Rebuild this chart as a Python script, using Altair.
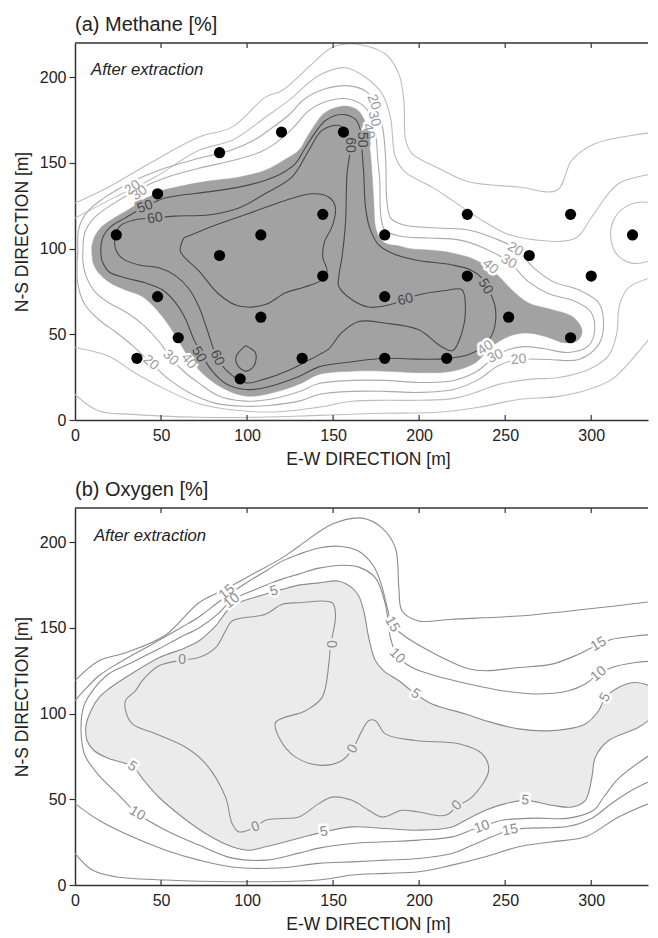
import altair as alt
import pandas as pd

FONT = "Liberation Sans"
X_DOMAIN = [0, 333]
Y_DOMAIN = [0, 220]
X_TICKS = [0, 50, 100, 150, 200, 250, 300]
Y_TICKS = [0, 50, 100, 150, 200]
W, H = 573, 377

# ---------------- panel (a): methane ----------------
WELL_X = [24, 36, 48, 48, 60, 84, 84, 96, 108, 108, 120, 132, 144, 144, 156,
          180, 180, 180, 216, 228, 228, 252, 264, 288, 288, 300, 324]
WELL_Y = [108, 36, 132, 72, 48, 156, 96, 24, 108, 60, 168, 36, 120, 84, 168,
          108, 72, 36, 36, 120, 84, 60, 96, 120, 48, 84, 108]

A_FILL_40 = [(9.7,101.2),(11.6,107.4),(15.5,112.8),(22.6,117.8),(29,121.5),(37.2,126.6),(48.4,133.1),(60.4,136.2),(77.4,139.4),(95.2,141.7),(110.7,145.8),(121.4,151.6),(130.1,157.4),(134.7,164.9),(139.8,172.9),(144,178.3),(149.4,181.6),(154.5,183),(159.1,183),(163.8,181.2),(166.8,177.7),(169.6,170.8),(170.7,163.2),(171.9,153.3),(172.6,143.8),(173.6,128.3),(174.6,112.8),(176.5,107.4),(180.4,103.1),(188.2,101.6),(195.9,99.8),(205.6,99.2),(218.9,97.5),(232.7,93.4),(244.3,85.7),(253.8,76),(263.6,68.3),(277.2,64.4),(288.8,60.5),(294.6,52.7),(292.7,46.9),(285,45),(273.3,48.8),(261.7,50.8),(252,48.8),(242.3,43),(232.7,33.4),(219.1,28.5),(199.8,27.6),(180.4,28.5),(161,28.5),(141.7,26.6),(130.1,20.8),(110.7,14.9),(99.1,14),(87.5,17.8),(75.9,25.6),(66.2,36.5),(59.8,46.9),(50.7,60.5),(39.1,72.1),(29,76),(19.7,80.6),(13.9,85.7),(10.6,91.5),(9.7,101.2)]

A_LINE_50 = [(15.5,93.4),(15.0,100.4),(16.5,107.4),(20.5,112.6),(29.0,117.8),(40.7,124.4),(52.3,129.5),(77.4,133.1),(95.2,135.9),(110.7,139.9),(121.4,144.6),(128.2,149.7),(133.0,157.4),(137.8,165.1),(145.6,174.8),(155.2,178.3),(163.0,175.4),(165.9,169.0),(166.8,157.4),(167.8,143.8),(168.8,124.4),(171.3,112.0),(176.5,102.2),(185.3,96.9),(197.9,93.4),(219.1,90.5),(230.0,87.6),(236.4,83.0),(240.4,76.0),(243.9,67.3),(244.5,58.5),(242.7,50.4),(238.5,44.0),(228.8,38.2),(216.0,35.8),(199.8,35.5),(180.4,36.0),(161.0,34.0),(141.7,31.0),(130.1,25.4),(110.7,19.0),(99.1,17.8),(87.5,21.3),(79.0,29.5),(73.8,38.2),(69.1,46.9),(63.9,59.7),(58.5,68.4),(50.7,76.0),(40.7,80.1),(29.0,83.0),(19.7,86.5),(15.5,93.4)]

A_LINE_60 = [(46.5,117.7),(58.1,119.0),(77.4,119.6),(95.2,123.7),(110.7,132.2),(126.2,141.9),(135.9,157.4),(143.6,169.0),(153.3,171.9),(158.0,167.8),(160.1,161.3),(158.1,143.8),(157.2,114.8),(155.2,95.3),(153.3,83.7),(153.3,77.9),(161.0,70.2),(170.7,65.9),(180.4,66.7),(192.0,70.2),(199.8,73.1),(214.3,75.4),(224.9,76.0),(226.9,64.4),(224.5,50.0),(219.5,40.5),(212.0,43.5),(199.8,52.7),(180.4,56.5),(165.0,57.5),(155.0,51.0),(147.5,41.5),(141.7,38.0),(134.0,34.0),(124.3,29.0),(110.7,24.0),(99.1,21.7),(89.4,27.6),(82.6,36.3),(76.8,52.7),(72.0,66.1),(66.2,76.6),(58.5,84.1),(48.8,88.8),(37.2,90.5),(27.9,94.0),(23.8,99.2),(23.2,106.2),(26.1,113.2),(34.3,116.7),(46.5,117.7)]

A_LINE_70 = [(63.3,106.3),(72.0,109.9),(86.5,115.5),(101.0,120.5),(122.3,128.1),(137.8,132.0),(147.4,130.1),(151.3,124.3),(149.4,112.8),(145.0,104.0),(144.0,95.0),(146.5,87.0),(143.0,81.5),(133.0,77.5),(122.3,74.2),(110.7,67.4),(95.2,66.5),(83.6,73.4),(72.0,87.0),(61.2,98.6),(63.3,106.3)]

A_ISLAND = [(99.1,43.4),(104.9,39.2),(103.9,31.4),(99.1,28.5),(94.2,32.4),(93.7,37.2),(99.1,43.4)]

A_LINE_30 = [(4.6,99.2),(5.8,109.7),(11.0,117.8),(20.9,125.4),(35.8,134.1),(51.7,141.1),(72.0,146.9),(92.3,151.6),(108.0,156.5),(118.5,163.0),(127.2,171.0),(135.9,180.5),(146.3,186.0),(157.9,187.5),(166.1,184.5),(171.9,177.7),(174.8,166.1),(176.0,151.6),(177.1,140.0),(177.7,119.6),(180.0,110.9),(188.2,107.4),(205.6,106.2),(223.0,105.1),(237.5,100.4),(252.0,92.4),(263.6,80.6),(275.3,73.7),(289.8,69.6),(299.7,63.2),(302.0,52.7),(298.5,43.4),(286.9,39.4),(272.4,41.7),(260.7,42.8),(252.0,41.1),(244.3,37.2),(233.4,28.3),(220.1,23.1),(199.8,21.9),(180.4,23.1),(161.0,23.1),(141.7,21.3),(130.1,16.5),(112.7,12.0),(99.1,11.0),(83.6,14.0),(72.0,21.5),(63.3,28.3),(55.6,36.3),(48.8,45.8),(40.1,55.1),(30.2,62.6),(19.7,68.4),(11.6,74.8),(6.4,84.1),(4.6,92.2),(4.6,99.2)]

A_LINE_20 = [(1.7,99.2),(2.3,112.0),(7.0,121.3),(16.8,129.5),(31.4,138.2),(48.8,145.8),(72.0,152.7),(90.6,157.4),(103.9,163.2),(113.8,170.0),(124.3,178.0),(133.0,187.0),(144.6,193.0),(159.1,195.0),(169.6,191.5),(175.4,183.5),(178.9,170.0),(180.6,151.6),(181.2,128.3),(183.5,117.8),(191.1,113.8),(211.4,112.0),(228.8,110.9),(243.3,106.2),(255.9,100.2),(266.6,88.8),(278.2,80.6),(292.7,76.0),(304.3,68.4),(307.2,55.6),(304.3,44.0),(292.7,35.3),(275.3,35.3),(257.8,35.3),(246.2,31.8),(234.6,23.7),(220.1,17.8),(199.8,16.1),(180.4,16.7),(161.0,16.7),(141.7,14.9),(130.1,11.0),(112.7,8.5),(99.1,8.0),(80.7,10.0),(66.2,16.0),(54.6,23.7),(44.0,33.4),(34.3,42.7),(24.4,50.8),(13.9,58.5),(5.8,67.3),(1.7,78.9),(1.2,90.5),(1.7,99.2)]

A_OUT1_TOP = [(0,117.8),(23.6,130.2),(46.9,141.9),(72.0,157.4),(91.3,163.2),(110.7,176.7),(124.3,186.5),(141.7,201.0),(157.2,205.6),(168.8,200.0),(178.5,190.3),(183.3,176.7),(186.2,153.5),(192.0,144.6),(207.5,135.9),(219.1,128.3),(234.6,117.8),(250.1,109.0),(267.5,105.1),(290.8,106.0),(300.4,118.6),(315.9,138.0),(338.0,143.8)]

A_OUT2_TOP = [(0,126.6),(19.7,136.0),(43.0,149.5),(72.0,165.1),(91.3,170.9),(110.7,188.4),(120.4,192.3),(137.8,207.8),(149.4,217.4),(163.0,219.4),(180.4,213.6),(188.2,202.0),(191.1,186.5),(192.2,163.2),(195.9,155.5),(211.4,146.9),(228.8,139.0),(257.8,136.0),(280.1,134.1),(288.8,151.6),(302.4,161.3),(338.0,168.0)]

A_OUT1_BOT = [(0,42.3),(19.7,37.2),(33.3,28.5),(48.8,19.8),(72.0,9.5),(95.2,5.5),(118.5,4.8),(141.7,7.5),(160.9,10.9),(180.4,11.5),(199.8,11.5),(220.1,12.6),(234.6,16.7),(246.2,20.8),(263.6,23.7),(281.1,24.8),(298.5,29.5),(310.1,37.6),(314.7,49.8),(316.5,67.3),(321.7,77.2),(338.0,84.1)]

A_OUT2_BOT = [(0,14.9),(13.9,5.2),(33.3,3.3),(72.0,1.6),(106.9,1.6),(141.7,2.7),(176.5,3.9),(211.4,4.5),(234.6,7.4),(257.8,12.0),(281.1,13.8),(298.5,17.8),(312.0,23.7),(323.6,35.3),(338.0,52.7)]

A_CIRCLE = [(338.0,125.4),(330.5,127.2),(320.6,124.8),(313.6,117.8),(311.3,107.4),(314.7,96.9),(322.9,91.7),(332.2,92.3),(338.0,95.8)]

A_LAB_T = ["20", "30", "50", "60", "20", "30", "40", "50", "60", "20", "30", "40", "50",
           "60", "40", "30", "20", "20", "30", "40", "50", "60"]
A_LAB_X = [33.5, 37.5, 40.7, 46.5, 173.6, 173.8, 170.5, 166.8, 160.1, 255.9, 252.0, 241.4, 238.5,
           192.0, 238.5, 244.3, 257.8, 44.0, 55.6, 66.2, 72.0, 82.6]
A_LAB_Y = [135.5, 132.5, 124.4, 117.7, 185.5, 175.8, 168.5, 163.5, 160.5, 99.6, 92.4, 89.5, 77.9,
           70.2, 42.1, 37.2, 35.3, 33.4, 36.3, 34.3, 38.2, 36.3]
A_LAB_ANG = [325, 325, 340, 350, 70, 75, 80, 90, 90, 30, 30, 40, 60,
             345, 325, 335, 355, 40, 45, 50, 60, 65]
A_LAB_DARK = [0, 0, 1, 1, 0, 0, 0, 1, 1, 0, 0, 0, 1, 1, 0, 0, 0, 0, 0, 0, 1, 1]

# ---------------- panel (b): oxygen ----------------
B_FILL_5 = [(338.0,111.5),(335.3,115.3),(325.6,118.2),(315.9,115.3),(308.2,109.5),(304.3,101.7),(296.6,94.0),(277.2,90.1),(257.8,91.1),(238.5,95.9),(226.9,99.8),(207.5,105.6),(197.9,111.5),(188.2,119.2),(179.4,125.0),(174.6,130.8),(170.7,144.4),(167.8,159.9),(164.9,168.6),(161.0,173.4),(153.3,177.3),(141.7,176.3),(130.1,175.0),(120.4,172.5),(106.9,168.6),(91.3,162.8),(81.7,151.2),(72.0,142.4),(64.3,138.5),(48.8,132.6),(29.4,121.1),(19.7,114.5),(13.9,109.3),(9.3,101.7),(6.4,93.0),(7.0,84.3),(11.0,78.5),(19.7,73.8),(33.3,69.2),(40.1,61.0),(48.8,51.2),(62.3,39.7),(75.9,30.1),(91.3,22.3),(101.0,20.3),(110.7,22.3),(130.1,27.3),(144.6,31.0),(161.0,33.9),(180.4,33.0),(199.8,32.0),(219.1,33.9),(226.9,37.8),(238.5,43.6),(250.1,47.5),(261.7,49.4),(277.2,46.5),(288.8,45.5),(296.6,49.4),(300.4,63.0),(302.4,74.6),(310.1,84.3),(327.5,92.0),(338.0,99.8)]

B_LINE_0 = [(222.0,46.5),(215.3,40.7),(199.8,42.6),(190.1,43.6),(178.5,39.7),(170.7,43.6),(161.0,49.4),(149.4,51.3),(141.7,47.5),(130.1,39.7),(120.4,38.8),(110.7,37.8),(104.9,33.9),(95.2,31.0),(91.3,35.9),(87.5,51.3),(75.9,70.8),(64.3,80.4),(46.9,88.2),(33.3,94.0),(29.4,101.7),(29.4,107.6),(35.2,113.4),(39.1,119.2),(48.8,127.9),(62.3,131.2),(72.0,132.7),(81.7,138.5),(87.5,148.3),(91.3,154.1),(110.7,158.0),(120.4,163.8),(130.1,164.7),(149.4,164.7),(151.4,158.0),(149.4,144.4),(148.5,140.5),(147.5,128.9),(143.6,109.5),(134.0,101.7),(116.6,94.9),(118.5,86.2),(128.2,74.6),(143.6,69.8),(155.2,72.7),(161.4,79.5),(166.8,90.1),(170.7,95.9),(174.6,95.9),(180.4,88.2),(197.9,84.3),(223.0,82.4),(236.5,76.6),(240.4,66.9),(230.7,51.3),(222.0,46.5)]

B_LINE_10 = [(338.0,130.8),(325.6,129.8),(312.0,126.9),(304.3,123.1),(296.6,117.3),(286.9,113.4),(267.5,111.5),(248.1,113.4),(228.8,117.3),(209.5,122.1),(195.9,126.9),(187.2,133.7),(183.3,144.4),(180.4,163.8),(174.6,179.2),(164.9,185.5),(156.2,186.6),(141.7,184.9),(130.1,181.4),(120.4,178.5),(106.9,173.3),(95.2,168.6),(91.3,166.7),(83.6,158.7),(72.0,150.0),(60.4,144.2),(48.8,137.8),(31.4,129.1),(19.7,123.3),(11.0,114.5),(5.2,104.7),(3.5,90.1),(5.8,75.6),(13.9,64.0),(25.6,52.3),(36.2,41.7),(52.7,32.0),(72.0,23.3),(91.3,15.7),(110.7,14.5),(130.1,18.6),(141.7,21.5),(161.0,24.2),(180.4,25.2),(199.8,26.2),(219.1,28.1),(232.7,33.0),(236.5,33.9),(248.1,37.8),(267.5,39.0),(286.9,39.0),(301.4,43.6),(307.2,51.2),(315.9,62.2),(338.0,78.5)]

B_LINE_15_TOP = [(338.0,146.3),(325.6,145.3),(312.0,143.4),(304.3,140.5),(292.7,134.7),(277.2,128.9),(257.8,126.9),(238.5,125.0),(228.8,126.2),(209.5,134.7),(190.1,146.3),(184.3,152.1),(181.2,162.8),(178.3,174.4),(173.6,186.0),(164.9,194.8),(153.3,197.7),(141.7,196.7),(130.1,193.0),(120.4,189.0),(110.7,183.1),(101.0,177.3),(89.4,169.6),(81.7,163.8),(72.0,156.4),(62.3,150.6),(43.0,139.5),(25.6,129.7),(13.9,122.1),(5.2,113.4),(0,107.6)]

B_LINE_15_BOT = [(0,47.5),(13.9,37.8),(33.3,28.1),(52.7,20.3),(72.0,14.5),(91.3,10.5),(118.5,9.9),(141.7,12.6),(161.0,13.5),(180.4,14.5),(199.8,15.5),(219.1,18.4),(228.8,22.3),(246.2,29.7),(253.0,32.0),(261.7,33.1),(286.9,34.3),(300.4,39.0),(312.0,47.7),(325.6,56.4),(338.0,62.2)]

B_LINE_20_TOP = [(0,119.2),(13.9,130.8),(29.4,135.5),(52.7,145.9),(72.0,164.7),(87.5,172.7),(101.0,180.2),(120.4,190.9),(130.1,197.7),(149.4,210.5),(166.8,214.1),(178.5,208.3),(186.2,196.7),(188.2,173.4),(190.1,159.9),(199.8,154.1),(219.1,155.1),(257.8,157.0),(296.6,160.9),(338.0,165.7)]

B_LINE_20_BOT = [(0,18.4),(10.0,8.7),(23.6,4.8),(52.7,2.9),(91.3,1.9),(141.7,2.9),(161.0,5.8),(180.4,6.8),(199.8,7.7),(219.1,11.6),(238.5,16.5),(257.8,22.3),(277.2,25.2),(296.6,28.1),(315.9,39.7),(338.0,49.4)]

B_LAB_T = ["15", "10", "5", "0", "0", "0", "0", "0", "5", "10", "5", "15", "10", "5",
           "15", "10", "5", "5", "10", "15"]
B_LAB_X = [88.3, 91.2, 115.6, 62.3, 148.5, 161.4, 104.9, 222.0, 33.3, 36.2, 144.6, 184.3, 187.2, 197.9,
           304.3, 304.3, 308.2, 261.7, 236.5, 253.0]
B_LAB_Y = [170.9, 165.7, 171.5, 131.2, 140.5, 79.5, 33.9, 46.5, 69.2, 41.7, 31.0, 152.1, 133.7, 111.5,
           140.5, 123.1, 109.5, 49.4, 33.9, 32.0]
B_LAB_ANG = [320, 320, 345, 0, 90, 300, 340, 315, 35, 30, 350, 60, 45, 35,
             330, 320, 300, 5, 340, 350]
B_LAB_INSIDE = [0, 0, 0, 1, 1, 1, 1, 1, 0, 0, 0, 0, 0, 0, 0, 0, 0, 0, 0, 0]

TITLES = ["(a) Methane [%]", "(b) Oxygen [%]"]
NOTE = "After extraction"

# ---------------- styling ----------------
FILL_A = "#a2a2a2"
DARK_A = "#484848"
LIGHT_A = "#ababab"
LIGHT_A2 = "#bdbdbd"
FILL_B = "#ebebeb"
LINE_B = "#8c8c8c"
INK = "#222222"
FRAME = "#333333"

xs = alt.Scale(domain=X_DOMAIN, nice=False, zero=False)
ys = alt.Scale(domain=Y_DOMAIN, nice=False, zero=False)

xax = alt.Axis(values=X_TICKS, title="E-W DIRECTION [m]", grid=False, ticks=False, tickSize=0,
               labelPadding=7, labelFontSize=16, titleFontSize=17.5, titleFontWeight="normal",
               titlePadding=7, titleX=293, labelFlush=False, domainColor=FRAME, domainWidth=1.5,
               labelColor=INK, titleColor=INK, format="d")
yax = alt.Axis(values=Y_TICKS, title="N-S DIRECTION [m]", grid=False, tickSize=6, tickColor=FRAME,
               tickWidth=1.2, labelPadding=3, labelFontSize=16, titleFontSize=17.5,
               titleFontWeight="normal", titlePadding=7.5, labelFlush=False, domainColor=FRAME,
               domainWidth=1.5, labelColor=INK, titleColor=INK, format="d")

X = alt.X("x:Q", scale=xs, axis=xax)
Y = alt.Y("y:Q", scale=ys, axis=yax)


def lines_df(items):
    rows = []
    for name, pts, color in items:
        for i, (x, y) in enumerate(pts):
            rows.append({"line": name, "i": i, "x": x, "y": y, "c": color})
    return pd.DataFrame(rows)


def labels_df(t, x, y, a, col, halo):
    return pd.DataFrame({"t": t, "x": x, "y": y, "a": a, "c": col, "h": halo})


def frame_layers():
    tx = pd.DataFrame({"x": X_TICKS[1:]})
    bottom = alt.Chart(tx).mark_rule(color=FRAME, strokeWidth=1.2).encode(
        x=X, y=alt.value(H), y2=alt.value(H - 5))
    top = alt.Chart(tx).mark_rule(color=FRAME, strokeWidth=1.2).encode(
        x=X, y=alt.value(0), y2=alt.value(5))
    border = alt.Chart(pd.DataFrame({"k": [0]})).mark_rule(color=FRAME, strokeWidth=1.5).encode(
        x=alt.value(0), x2=alt.value(W), y=alt.value(0))
    return [bottom, top, border]


def panel(title, fill_pts, fill_color, line_items, labs, note_x, note_y, wells=None):
    fdf = pd.DataFrame({"i": range(len(fill_pts)),
                        "x": [p[0] for p in fill_pts], "y": [p[1] for p in fill_pts]})
    fill = alt.Chart(fdf).mark_line(fill=fill_color, stroke=fill_color, strokeWidth=0.5,
                                    interpolate="catmull-rom", clip=True).encode(
        x=X, y=Y, order="i:Q")
    lines = alt.Chart(lines_df(line_items)).mark_line(
        strokeWidth=1.1, interpolate="catmull-rom", clip=True).encode(
        x=X, y=Y, detail="line:N", order="i:Q", color=alt.Color("c:N", scale=None))
    halo = alt.Chart(labs).mark_text(font=FONT, fontSize=14, strokeWidth=5,
                                      strokeJoin="round").encode(
        x=X, y=Y, text="t:N", angle=alt.Angle("a:Q", scale=None),
        stroke=alt.Stroke("h:N", scale=None), fill=alt.Fill("h:N", scale=None))
    text = alt.Chart(labs).mark_text(font=FONT, fontSize=14).encode(
        x=X, y=Y, text="t:N", angle=alt.Angle("a:Q", scale=None),
        color=alt.Color("c:N", scale=None))
    note = alt.Chart(pd.DataFrame({"x": [note_x], "y": [note_y], "t": [NOTE]})).mark_text(
        font=FONT, fontSize=16.7, fontStyle="italic", align="left", baseline="alphabetic",
        color=INK).encode(x=X, y=Y, text="t:N")
    head = alt.Chart(pd.DataFrame({"t": [title]})).mark_text(
        font=FONT, fontSize=20, align="left", baseline="alphabetic", color=INK).encode(
        x=alt.value(0), y=alt.value(-12), text="t:N")
    layers = [fill, lines, halo, text]
    if wells is not None:
        layers.append(alt.Chart(wells).mark_circle(size=125, color="black", opacity=1).encode(x=X, y=Y))
    layers += [note, head]
    layers += frame_layers()
    return alt.layer(*layers).properties(width=W, height=H)


a_lines = [
    ("o2t", A_OUT2_TOP, LIGHT_A2), ("o1t", A_OUT1_TOP, LIGHT_A2),
    ("o1b", A_OUT1_BOT, LIGHT_A2), ("o2b", A_OUT2_BOT, LIGHT_A2),
    ("circ", A_CIRCLE, LIGHT_A2),
    ("l20", A_LINE_20, LIGHT_A), ("l30", A_LINE_30, LIGHT_A),
    ("l50", A_LINE_50, DARK_A), ("l60", A_LINE_60, DARK_A),
    ("l70", A_LINE_70, DARK_A), ("isl", A_ISLAND, DARK_A),
]
a_labs = labels_df(A_LAB_T, A_LAB_X, A_LAB_Y, A_LAB_ANG,
                   [DARK_A if d else "#9c9c9c" for d in A_LAB_DARK],
                   [FILL_A if d else "white" for d in A_LAB_DARK])
wells = pd.DataFrame({"x": WELL_X, "y": WELL_Y})
pa = panel(TITLES[0], A_FILL_40, FILL_A, a_lines, a_labs, 9.3, 201.6, wells)

b_lines = [
    ("f5", B_FILL_5, LINE_B), ("l0", B_LINE_0, LINE_B), ("l10", B_LINE_10, LINE_B),
    ("l15t", B_LINE_15_TOP, LINE_B), ("l15b", B_LINE_15_BOT, LINE_B),
    ("l20t", B_LINE_20_TOP, LINE_B), ("l20b", B_LINE_20_BOT, LINE_B),
]
b_labs = labels_df(B_LAB_T, B_LAB_X, B_LAB_Y, B_LAB_ANG, [LINE_B] * len(B_LAB_T),
                   [FILL_B if d else "white" for d in B_LAB_INSIDE])
pb = panel(TITLES[1], B_FILL_5, FILL_B, b_lines, b_labs, 11.0, 200.6)

chart = alt.vconcat(pa, pb, spacing=12).properties(
    padding={"left": 5, "top": 7, "right": 0, "bottom": 0}
).configure_view(strokeWidth=0).configure_axis(
    labelFont=FONT, titleFont=FONT)

chart.save("out.html", embed_options={"renderer": "svg", "actions": False})
